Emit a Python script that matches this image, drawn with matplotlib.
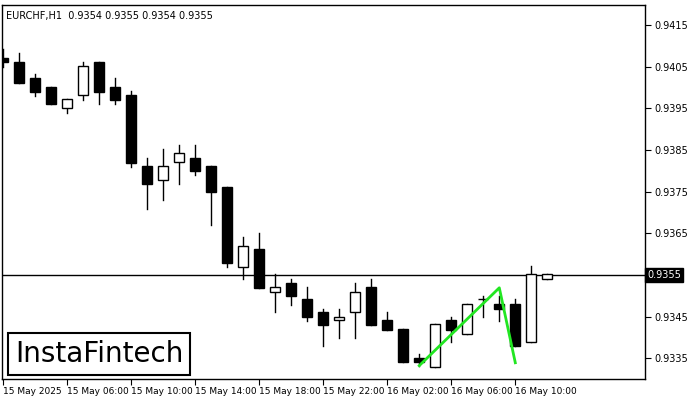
import matplotlib.pyplot as plt
from matplotlib.patches import Rectangle

# OHLC, EURCHF H1
opens  = [0.94071, 0.94061, 0.94022, 0.94000, 0.93950, 0.93981, 0.94060, 0.94000,
          0.93981, 0.93811, 0.93778, 0.93820, 0.93830, 0.93811, 0.93761, 0.93570,
          0.93612, 0.93510, 0.93530, 0.93491, 0.93460, 0.93441, 0.93460, 0.93520,
          0.93441, 0.93420, 0.93350, 0.93330, 0.93441, 0.93409, 0.93491, 0.93480,
          0.93480, 0.93390, 0.93540]
highs  = [0.94092, 0.94083, 0.94032, 0.94000, 0.93972, 0.94061, 0.94060, 0.94022,
          0.93991, 0.93830, 0.93852, 0.93862, 0.93862, 0.93811, 0.93761, 0.93641,
          0.93651, 0.93551, 0.93540, 0.93521, 0.93469, 0.93469, 0.93530, 0.93540,
          0.93460, 0.93420, 0.93360, 0.93431, 0.93450, 0.93480, 0.93500, 0.93500,
          0.93491, 0.93571, 0.93552]
lows   = [0.94049, 0.94010, 0.93980, 0.93961, 0.93939, 0.93971, 0.93961, 0.93961,
          0.93810, 0.93709, 0.93730, 0.93769, 0.93790, 0.93670, 0.93569, 0.93539,
          0.93519, 0.93460, 0.93478, 0.93440, 0.93380, 0.93399, 0.93399, 0.93430,
          0.93418, 0.93340, 0.93332, 0.93330, 0.93390, 0.93409, 0.93449, 0.93440,
          0.93380, 0.93390, 0.93539]
closes = [0.94061, 0.94010, 0.93990, 0.93961, 0.93972, 0.94052, 0.93990, 0.93971,
          0.93819, 0.93769, 0.93811, 0.93842, 0.93800, 0.93750, 0.93579, 0.93620,
          0.93519, 0.93521, 0.93500, 0.93449, 0.93430, 0.93450, 0.93510, 0.93430,
          0.93418, 0.93340, 0.93340, 0.93431, 0.93418, 0.93480, 0.93491, 0.93468,
          0.93380, 0.93552, 0.93552]

time_labels = ["15 May 2025", "15 May 06:00", "15 May 10:00", "15 May 14:00",
               "15 May 18:00", "15 May 22:00", "16 May 02:00", "16 May 06:00",
               "16 May 10:00"]
price_ticks = [0.9415, 0.9405, 0.9395, 0.9385, 0.9375, 0.9365, 0.9345, 0.9335]
last_price = 0.9355

# pattern line (index, price)
pattern_x = [26, 31, 32]
pattern_y = [0.93332, 0.93519, 0.93339]

fig = plt.figure(figsize=(7, 4), dpi=100)
ax = fig.add_axes([2 / 700, 21 / 400, 643 / 700, 374 / 400])

w = 0.62
for i, (o, h, l, c) in enumerate(zip(opens, highs, lows, closes)):
    ax.plot([i, i], [l, h], color='black', lw=1, zorder=1)
    bottom = min(o, c)
    height = max(abs(c - o), 0.000008)
    face = 'white' if c >= o else 'black'
    ax.add_patch(Rectangle((i - w / 2, bottom), w, height, facecolor=face,
                           edgecolor='black', lw=1, zorder=2))

ax.axhline(last_price, color='black', lw=1, zorder=0)
ax.plot(pattern_x, pattern_y, color='#22e622', lw=2, zorder=3)

ax.set_xlim(-0.06, 40.1)
ax.set_ylim(0.93300, 0.94198)

ax.yaxis.tick_right()
ax.set_yticks(price_ticks)
ax.set_yticklabels(["%.4f" % p for p in price_ticks], fontsize=7)
ax.tick_params(axis='y', length=4, pad=3)
ax.text(1.003, last_price, "%.4f" % last_price, transform=ax.get_yaxis_transform(),
        fontsize=7, color='white', va='center', ha='left',
        bbox=dict(facecolor='black', edgecolor='black', pad=1.5))

ax.set_xticks(range(0, 33, 4))
ax.set_xticklabels(time_labels, fontsize=6.5, ha='left')
ax.tick_params(axis='x', length=4, pad=2)

for s in ax.spines.values():
    s.set_linewidth(1)

ax.text(0.006, 0.985, "EURCHF,H1  0.9354 0.9355 0.9354 0.9355", transform=ax.transAxes,
        fontsize=7, va='top', ha='left')

ax.text(0.02, 0.03, "InstaFintech", transform=ax.transAxes, fontsize=20,
        va='bottom', ha='left', zorder=5,
        bbox=dict(facecolor='white', edgecolor='black', lw=1.5, boxstyle='square,pad=0.25'))

fig.savefig("out.png", dpi=100)
